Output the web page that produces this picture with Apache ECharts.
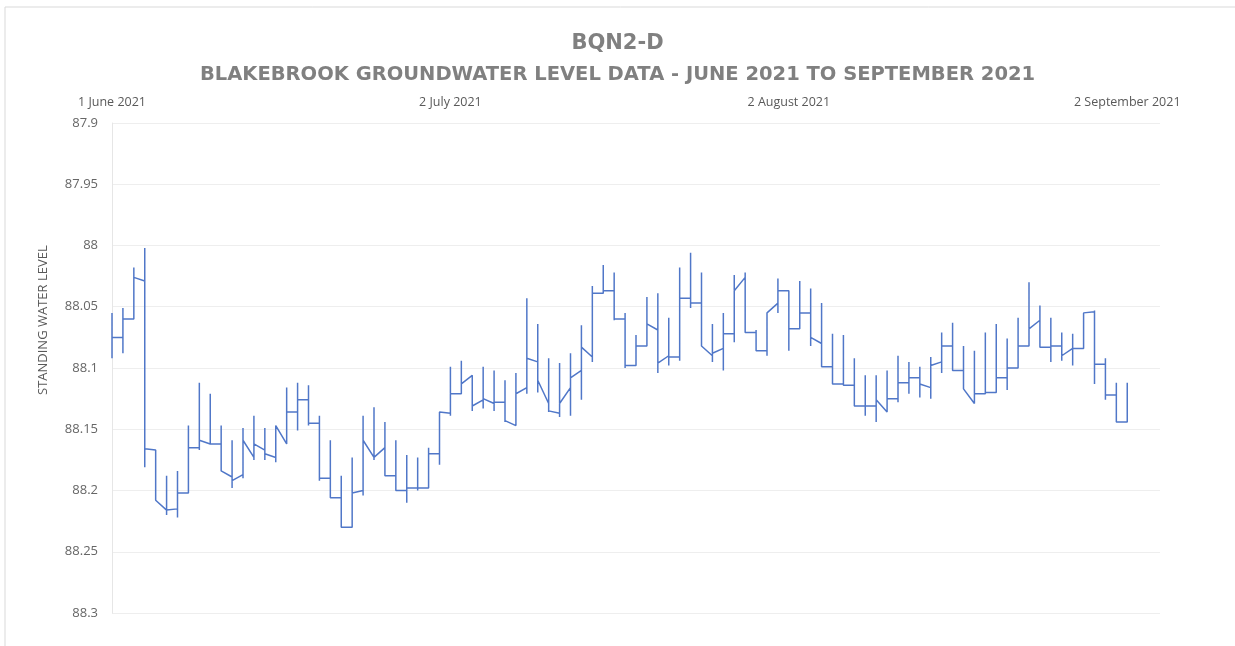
<!DOCTYPE html>
<html>
<head>
<meta charset="utf-8">
<script src="https://cdn.jsdelivr.net/npm/echarts@6/dist/echarts.min.js"></script>
<style>
html,body{margin:0;padding:0;background:#fff;}
#chart{width:1235px;height:646px;}
</style>
</head>
<body>
<div id="chart"></div>
<script>
// Day offsets from 1 June 2021; one daily spike per day (index = day)
const spikeTop = [88.055,88.051,88.018,88.002,88.167,88.188,88.184,88.147,88.112,88.121,
  88.147,88.159,88.149,88.139,88.149,88.147,88.116,88.112,88.114,88.139,
  88.159,88.188,88.173,88.139,88.132,88.144,88.159,88.171,88.173,88.165,
  88.136,88.099,88.094,88.106,88.099,88.102,88.110,88.104,88.043,88.064,
  88.092,88.096,88.088,88.065,88.033,88.016,88.022,88.055,88.073,88.042,
  88.039,88.059,88.018,88.006,88.022,88.064,88.055,88.024,88.022,88.069,
  88.055,88.027,88.037,88.029,88.035,88.047,88.072,88.073,88.092,88.106,
  88.106,88.102,88.090,88.095,88.099,88.091,88.071,88.063,88.082,88.086,
  88.071,88.064,88.076,88.059,88.030,88.049,88.059,88.071,88.072,88.055,
  88.053,88.092,88.112,88.112];
const spikeBottom = [88.092,88.088,88.060,88.181,88.208,88.220,88.222,88.202,88.167,88.162,
  88.184,88.198,88.190,88.175,88.175,88.177,88.159,88.151,88.147,88.192,
  88.206,88.230,88.230,88.204,88.175,88.188,88.200,88.210,88.200,88.198,
  88.179,88.139,88.122,88.135,88.133,88.135,88.144,88.148,88.121,88.120,
  88.136,88.140,88.139,88.126,88.095,88.039,88.061,88.100,88.098,88.083,
  88.104,88.098,88.094,88.051,88.082,88.095,88.102,88.079,88.071,88.086,
  88.090,88.055,88.086,88.067,88.082,88.098,88.112,88.114,88.129,88.139,
  88.144,88.137,88.128,88.121,88.124,88.125,88.104,88.102,88.117,88.129,
  88.121,88.120,88.118,88.098,88.082,88.083,88.095,88.094,88.098,88.083,
  88.113,88.126,88.144,88.144];
// level right after each day's spike, and level just before the next spike
const levelStart = [88.075,88.060,88.026,88.166,88.208,88.216,88.202,88.165,88.159,88.162,
  88.184,88.192,88.159,88.162,88.170,88.148,88.136,88.126,88.145,88.190,
  88.206,88.230,88.202,88.159,88.173,88.188,88.200,88.198,88.198,88.170,
  88.137,88.121,88.113,88.131,88.125,88.128,88.143,88.121,88.092,88.110,
  88.135,88.129,88.108,88.083,88.039,88.037,88.060,88.098,88.082,88.064,
  88.096,88.091,88.043,88.047,88.082,88.088,88.072,88.037,88.071,88.086,
  88.055,88.037,88.068,88.055,88.075,88.099,88.113,88.114,88.131,88.131,
  88.126,88.125,88.112,88.108,88.113,88.098,88.082,88.102,88.117,88.121,
  88.120,88.108,88.100,88.082,88.068,88.083,88.082,88.090,88.084,88.054,
  88.097,88.122,88.144];
const levelEnd = [88.075,88.060,88.029,88.167,88.216,88.215,88.202,88.165,88.162,88.162,
  88.189,88.187,88.173,88.167,88.173,88.162,88.136,88.126,88.145,88.190,
  88.206,88.230,88.200,88.173,88.165,88.188,88.200,88.198,88.198,88.170,
  88.137,88.121,88.106,88.126,88.129,88.128,88.147,88.116,88.095,88.129,
  88.137,88.116,88.102,88.091,88.039,88.037,88.060,88.098,88.082,88.069,
  88.090,88.091,88.043,88.047,88.090,88.084,88.072,88.026,88.071,88.086,
  88.047,88.037,88.068,88.055,88.080,88.099,88.113,88.114,88.131,88.131,
  88.136,88.125,88.112,88.108,88.116,88.095,88.082,88.102,88.129,88.121,
  88.120,88.108,88.100,88.082,88.061,88.083,88.082,88.084,88.084,88.054,
  88.097,88.122,88.144];
const xTickDays = [0, 31, 62, 93];
const yTicks = [87.9, 87.95, 88, 88.05, 88.1, 88.15, 88.2, 88.25, 88.3];
const monthNames = ['January','February','March','April','May','June','July','August','September','October','November','December'];

const path = [];
for (let i = 0; i < spikeTop.length; i++) {
  if (i > 0) path.push([i, levelEnd[i - 1]]);
  path.push([i, spikeBottom[i]]);
  path.push([i, spikeTop[i]]);
  if (i < levelStart.length) path.push([i, levelStart[i]]);
}

function dayLabel(v) {
  const d = new Date(2021, 5, 1 + Math.round(v));
  return d.getDate() + ' ' + monthNames[d.getMonth()] + ' ' + d.getFullYear();
}

const chart = echarts.init(document.getElementById('chart'));
chart.setOption({
  animation: false,
  backgroundColor: '#ffffff',
  graphic: [
    { type: 'rect', shape: { x: 5, y: 7, width: 1240, height: 650 }, style: { fill: 'none', stroke: '#d9d9d9', lineWidth: 1 } },
    { type: 'text', left: 'center', top: 33, style: { text: 'BQN2-D', font: 'bold 21px "DejaVu Sans"', fill: '#808080' } },
    { type: 'text', left: 'center', top: 65, style: { text: 'BLAKEBROOK GROUNDWATER LEVEL DATA - JUNE 2021 TO SEPTEMBER 2021', font: 'bold 19.5px "DejaVu Sans"', fill: '#808080' } },
    { type: 'text', x: 37, y: 395, rotation: Math.PI / 2, style: { text: 'STANDING WATER LEVEL', font: '13px "Open Sans"', fill: '#595959' } }
  ],
  grid: { left: 112, right: 75, top: 123, bottom: 33, containLabel: false },
  xAxis: {
    type: 'value', position: 'top', min: 0, max: 96, interval: 31,
    axisLine: { show: false }, axisTick: { show: false }, splitLine: { show: false },
    axisLabel: { formatter: dayLabel, color: '#595959', fontSize: 12.5, fontFamily: 'Open Sans', margin: 14, showMaxLabel: false }
  },
  yAxis: {
    type: 'value', inverse: true, min: yTicks[0], max: yTicks[yTicks.length - 1], interval: 0.05,
    axisLine: { show: true, lineStyle: { color: '#e6e6e6' } }, axisTick: { show: false },
    splitLine: { lineStyle: { color: '#eeeeee' } },
    axisLabel: { color: '#666666', fontSize: 13, fontFamily: 'Open Sans', margin: 14,
      formatter: v => String(Math.round(v * 100) / 100) }
  },
  series: [{
    type: 'line', data: path, symbol: 'none',
    lineStyle: { color: '#5077c8', width: 1.5 }
  }]
});
</script>
</body>
</html>
